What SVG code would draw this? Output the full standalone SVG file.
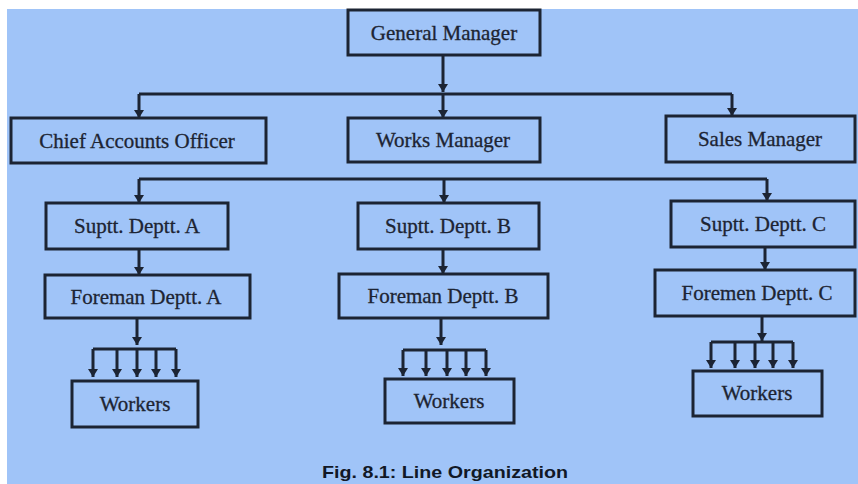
<svg xmlns="http://www.w3.org/2000/svg" width="858" height="484" viewBox="0 0 858 484">
  <defs>
    <marker id="arrowDown" markerUnits="userSpaceOnUse" markerWidth="10" markerHeight="10" refX="5" refY="9" viewBox="0 0 10 10">
      <path d="M0,1 L10,1 L5,9 Z" fill="#1c2433"/>
    </marker>
  </defs>
  <style>
    .box { fill: none; stroke: #1c2433; stroke-width: 3; }
    .label { font-family: "Liberation Serif", "Times New Roman", serif; font-size: 21px; fill: #1d2433; text-anchor: middle; stroke: #1d2433; stroke-width: 0.3; }
    .wire { fill: none; stroke: #1c2433; stroke-width: 3; }
    .drop { fill: none; stroke: #1c2433; stroke-width: 3; marker-end: url(#arrowDown); }
    .caption { font-family: "Liberation Sans", Arial, sans-serif; font-size: 17px; font-weight: bold; fill: #111826; text-anchor: middle; }
  </style>

  <!-- page background -->
  <rect x="0" y="0" width="858" height="484" fill="#ffffff"/>
  <rect x="7" y="9" width="851" height="475" fill="#a0c4f8"/>

  <!-- connectors -->
  <g id="connectors">
    <!-- General Manager to department heads -->
    <path class="drop" d="M443,55 V92"/>
    <path class="wire" d="M139,94 H732"/>
    <path class="drop" d="M139,94 V118"/>
    <path class="drop" d="M443,94 V118"/>
    <path class="drop" d="M732,94 V116"/>

    <!-- line to superintendents -->
    <path class="wire" d="M139,179 H767"/>
    <path class="drop" d="M139,179 V203"/>
    <path class="drop" d="M444,179 V203"/>
    <path class="drop" d="M767,179 V201"/>

    <!-- superintendents to foremen -->
    <path class="drop" d="M139,249 V275"/>
    <path class="drop" d="M443,249 V274"/>
    <path class="drop" d="M765,247 V270"/>

    <!-- foreman A to workers -->
    <path class="drop" d="M137,318 V345"/>
    <path class="wire" d="M93,349 H176"/>
    <path class="drop" d="M93,349 V377"/>
    <path class="drop" d="M117,349 V377"/>
    <path class="drop" d="M137,349 V377"/>
    <path class="drop" d="M156,349 V377"/>
    <path class="drop" d="M176,349 V377"/>

    <!-- foreman B to workers -->
    <path class="drop" d="M441,318 V345"/>
    <path class="wire" d="M403,350 H486"/>
    <path class="drop" d="M403,350 V376"/>
    <path class="drop" d="M426,350 V376"/>
    <path class="drop" d="M447,350 V376"/>
    <path class="drop" d="M466,350 V376"/>
    <path class="drop" d="M486,350 V376"/>

    <!-- foreman C to workers -->
    <path class="drop" d="M762,316 V341"/>
    <path class="wire" d="M711,342 H793"/>
    <path class="drop" d="M711,342 V368"/>
    <path class="drop" d="M735,342 V368"/>
    <path class="drop" d="M755,342 V368"/>
    <path class="drop" d="M773,342 V368"/>
    <path class="drop" d="M793,342 V368"/>
  </g>

  <!-- nodes -->
  <g id="general-manager">
    <rect class="box" x="348" y="10" width="192" height="45"/>
    <text class="label" x="444" y="40">General Manager</text>
  </g>
  <g id="chief-accounts-officer">
    <rect class="box" x="11" y="118" width="255" height="45"/>
    <text class="label" x="137" y="148">Chief Accounts Officer</text>
  </g>
  <g id="works-manager">
    <rect class="box" x="348" y="118" width="192" height="44"/>
    <text class="label" x="443" y="147">Works Manager</text>
  </g>
  <g id="sales-manager">
    <rect class="box" x="666" y="116" width="189" height="46"/>
    <text class="label" x="760" y="146">Sales Manager</text>
  </g>

  <g id="supt-a">
    <rect class="box" x="46" y="203" width="182" height="46"/>
    <text class="label" x="137" y="233">Suptt. Deptt. A</text>
  </g>
  <g id="supt-b">
    <rect class="box" x="358" y="203" width="181" height="46"/>
    <text class="label" x="448" y="233">Suptt. Deptt. B</text>
  </g>
  <g id="supt-c">
    <rect class="box" x="671" y="201" width="184" height="46"/>
    <text class="label" x="763" y="231">Suptt. Deptt. C</text>
  </g>

  <g id="foreman-a">
    <rect class="box" x="45" y="275" width="205" height="43"/>
    <text class="label" x="146" y="304">Foreman Deptt. A</text>
  </g>
  <g id="foreman-b">
    <rect class="box" x="339" y="274" width="209" height="44"/>
    <text class="label" x="443" y="303">Foreman Deptt. B</text>
  </g>
  <g id="foremen-c">
    <rect class="box" x="655" y="270" width="200" height="46"/>
    <text class="label" x="757" y="300">Foremen Deptt. C</text>
  </g>

  <g id="workers-a">
    <rect class="box" x="72" y="381" width="126" height="46"/>
    <text class="label" x="135" y="411">Workers</text>
  </g>
  <g id="workers-b">
    <rect class="box" x="385" y="379" width="129" height="44"/>
    <text class="label" x="449" y="408">Workers</text>
  </g>
  <g id="workers-c">
    <rect class="box" x="693" y="371" width="129" height="45"/>
    <text class="label" x="757" y="400">Workers</text>
  </g>

  <!-- caption -->
  <text class="caption" x="445" y="478" textLength="246" lengthAdjust="spacingAndGlyphs">Fig. 8.1: Line Organization</text>
</svg>
